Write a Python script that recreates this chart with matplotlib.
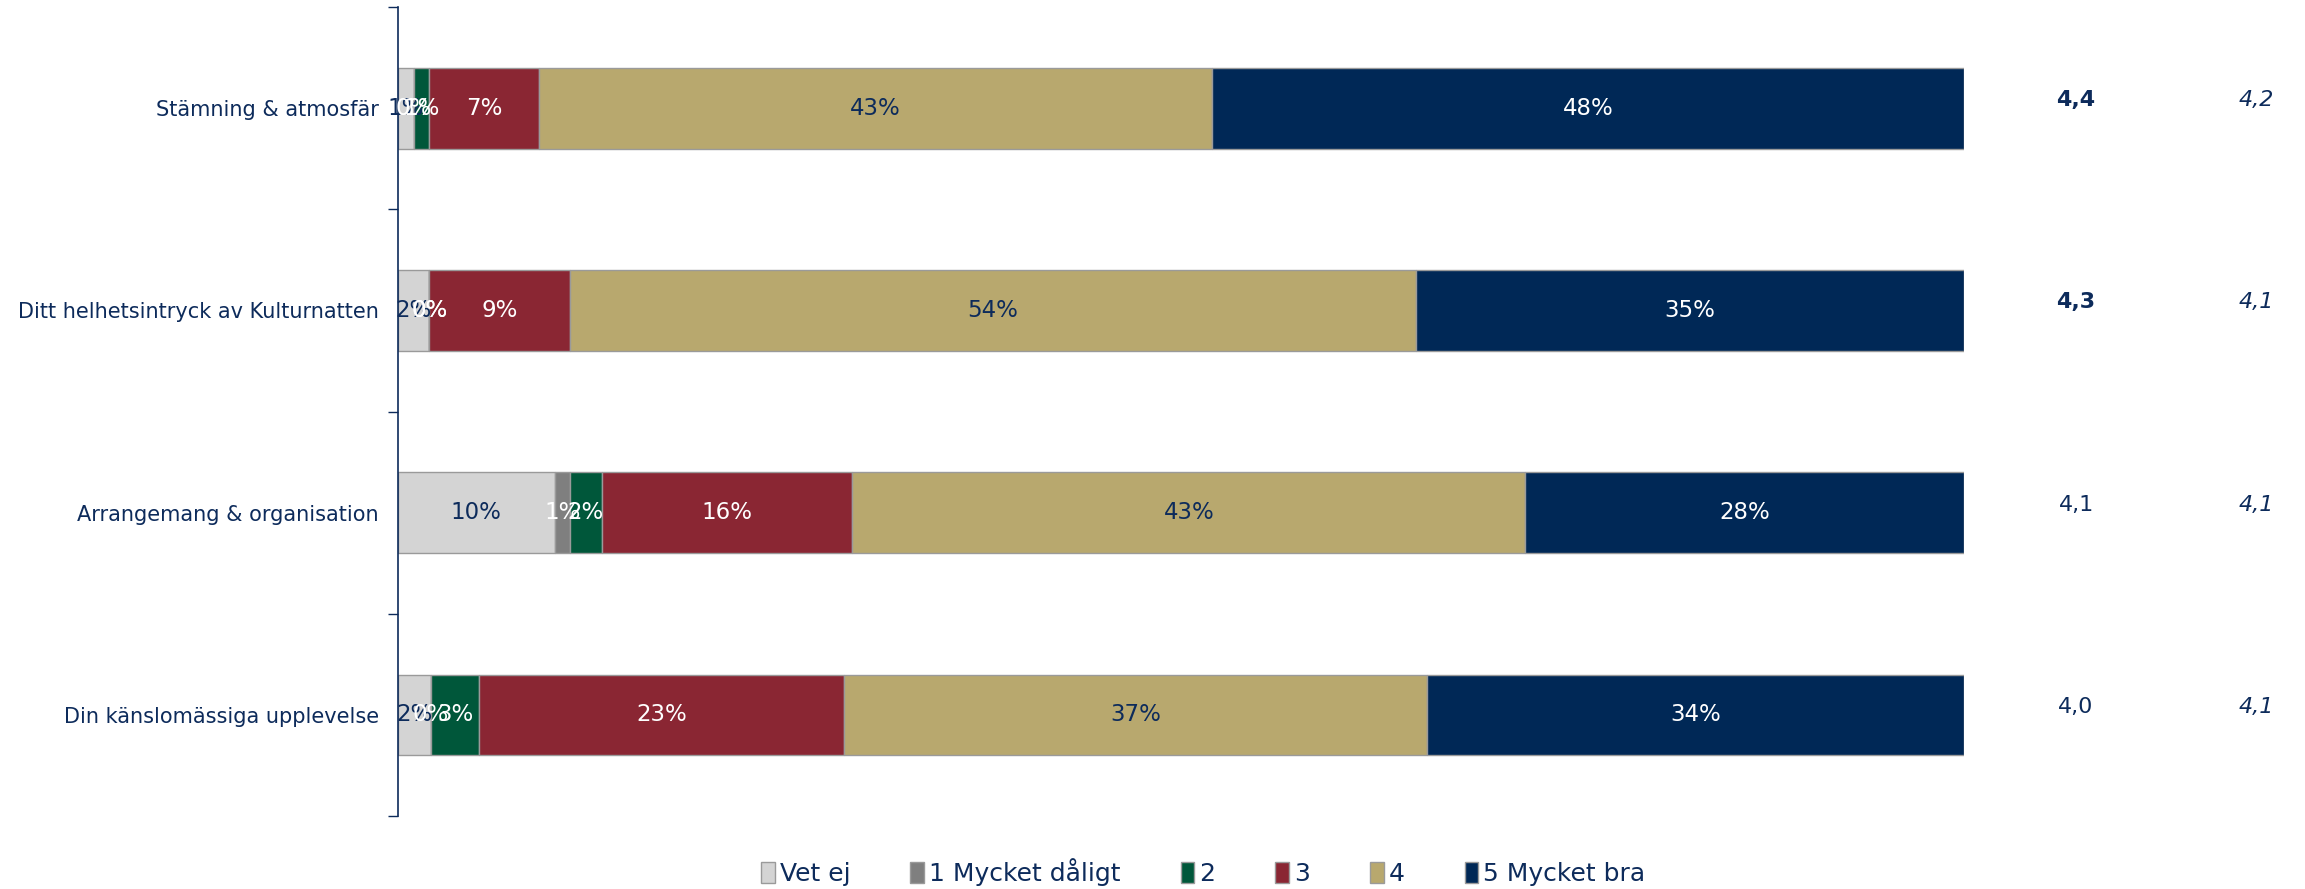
import matplotlib.pyplot as plt
import matplotlib.transforms as mtransforms
import numpy as np

# survey categories, top to bottom
categories = ['Stämning & atmosfär',
              'Ditt helhetsintryck av Kulturnatten',
              'Arrangemang & organisation',
              'Din känslomässiga upplevelse']

# share of answers per grade (percent)
vet_ej = [1, 2, 10, 2.1]
grade1 = [0, 0, 1, 0]
grade2 = [1, 0, 2, 3.1]
grade3 = [7, 9, 16, 23.3]
grade4 = [43, 54, 43, 37.2]
grade5 = [48, 35, 28, 34.3]

# mean scores shown to the right (this year, reference)
mean_now = [4.4, 4.3, 4.1, 4.0]
mean_ref = [4.2, 4.1, 4.1, 4.1]

series_names = ['Vet ej', '1 Mycket dåligt', '2', '3', '4', '5 Mycket bra']
colors = ['#D4D4D4', '#7F7F7F', '#00573A', '#8A2633', '#B8A86E', '#002856']
label_colors = ['#0D2B5B', 'white', 'white', 'white', '#0D2B5B', 'white']
navy = '#0D2B5B'

data = [vet_ej, grade1, grade2, grade3, grade4, grade5]

fig = plt.figure(figsize=(23.05, 8.89), dpi=100)
ax = fig.add_axes([0.1727, 0.082, 0.852 - 0.1727, 0.910])

y = np.arange(len(categories))
left = np.zeros(len(categories))
for vals, name, col, lcol in zip(data, series_names, colors, label_colors):
    vals = np.array(vals, dtype=float)
    ax.barh(y, vals, left=left, height=0.4, color=col, edgecolor='#9A9A9A',
            linewidth=1.0, label=name)
    for yi, (l, v) in enumerate(zip(left, vals)):
        ax.text(l + v / 2, yi, f'{v:.0f}%', ha='center', va='center',
                color=lcol, fontsize=16.5)
    left += vals

ax.set_xlim(0, 100)
ax.set_ylim(3.5, -0.5)

# category labels, tick marks only between the bars
ax.set_yticks(y)
ax.set_yticklabels(categories, fontsize=15, color=navy)
ax.tick_params(axis='y', which='major', length=0, pad=14)
ax.set_yticks(np.arange(-0.5, 4.0, 1.0), minor=True)
ax.tick_params(axis='y', which='minor', length=7, color=navy, width=1)
ax.set_xticks([])

for side in ['top', 'right', 'bottom']:
    ax.spines[side].set_visible(False)
ax.spines['left'].set_color(navy)
ax.spines['left'].set_linewidth(1.2)

# mean scores
trans = mtransforms.blended_transform_factory(fig.transFigure, ax.transData)
for yi, (m1, m2) in enumerate(zip(mean_now, mean_ref)):
    ax.text(0.9007, yi - 0.04, f'{m1:.1f}'.replace('.', ','), transform=trans,
            ha='center', va='center', color=navy, fontsize=16,
            fontweight='bold' if yi < 2 else 'normal')
    ax.text(0.979, yi - 0.04, f'{m2:.1f}'.replace('.', ','), transform=trans,
            ha='center', va='center', color=navy, fontsize=16, style='italic')

leg = fig.legend(loc='center', bbox_to_anchor=(0.522, 0.019), ncol=6,
                 frameon=False, fontsize=18, handlelength=0.55, handleheight=0.9,
                 handletextpad=0.2, columnspacing=2.4)
for t in leg.get_texts():
    t.set_color(navy)

fig.savefig('out.png', dpi=100)
